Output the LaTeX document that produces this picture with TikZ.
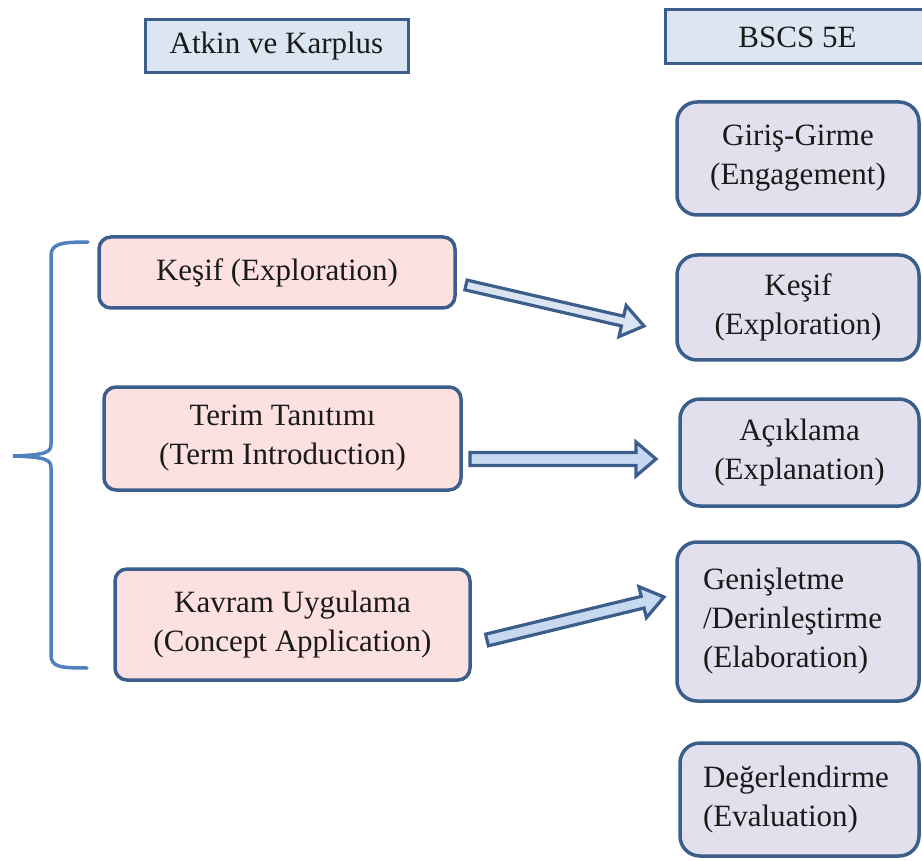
\documentclass[tikz,border=0pt]{standalone}
\usepackage{fontspec}
\setmainfont{Liberation Serif}
\usetikzlibrary{calc}
\definecolor{bord}{HTML}{3B5E8C}
\definecolor{hdrfill}{HTML}{DCE6F2}
\definecolor{pinkfill}{HTML}{FDE1E1}
\definecolor{lavfill}{HTML}{E4DFEC}
\definecolor{bracecol}{HTML}{4F81BD}
\definecolor{arrfillA}{HTML}{DBE5F1}
\definecolor{arrfillB}{HTML}{C6D9F1}
\definecolor{txt}{HTML}{1A1A1A}
\tikzset{
  basebox/.style={draw=bord, line width=3.5pt, inner sep=0pt, text=txt,
    font=\fontsize{31}{39}\selectfont, align=flush center},
  hdrbox/.style={basebox, fill=hdrfill, line width=3pt},
  leftbox/.style={basebox, fill=pinkfill, rounded corners=12pt},
  rightbox/.style={basebox, fill=lavfill, rounded corners=20pt},
  blockarrow/.style={draw=bord, line width=3.2pt, line join=miter},
  bracestyle/.style={draw=bracecol, line width=3.5pt, line cap=round}
}
\newcommand\blockarrowdraw[6]{%
  \coordinate (#1-n) at ($(#2)!#5!(#1)$);
  \draw[blockarrow, fill=#6] ($(#1)!#3!90:(#2)$) -- ($(#1-n)!#3!90:(#2)$) --
    ($(#1-n)!#4!90:(#2)$) -- (#2) -- ($(#1-n)!#4!-90:(#2)$) --
    ($(#1-n)!#3!-90:(#2)$) -- ($(#1)!#3!-90:(#2)$) -- cycle;}
\begin{document}
\begin{tikzpicture}[x=1pt, y=-1pt]
\useasboundingbox (0,0) rectangle (922,861);

% headers
\node[hdrbox, minimum width=263pt, minimum height=53pt] (hA) at (276.5,46.5) {Atkin ve Karplus};
\node[hdrbox, minimum width=265pt, minimum height=54pt] (hB) at (797.5,37) {BSCS 5E};

% left boxes
\node[leftbox, minimum width=356pt, minimum height=71pt, text width=340pt] (l1) at (277,272.5) {Keşif (Exploration)};
\node[leftbox, minimum width=357pt, minimum height=103pt, text width=340pt] (l2) at (282.5,438.5) {Terim Tanıtımı\\(Term Introduction)};
\node[leftbox, minimum width=355pt, minimum height=111pt, text width=340pt] (l3) at (292.5,624.5) {Kavram Uygulama\\(Concept Application)};

% right boxes
\node[rightbox, minimum width=242pt, minimum height=113pt, text width=230pt] (r1) at (798,158.5) {Giriş-Girme\\(Engagement)};
\node[rightbox, minimum width=242pt, minimum height=105pt, text width=230pt] (r2) at (798,307.5) {Keşif\\(Exploration)};
\node[rightbox, minimum width=239pt, minimum height=107pt, text width=230pt] (r3) at (799.5,452.5) {Açıklama\\(Explanation)};
\node[rightbox, minimum width=242pt, minimum height=159pt, text width=190pt, align=flush left, inner xsep=26pt] (r4) at (798,621.5) {Genişletme\\/Derinleştirme\\(Elaboration)};
\node[rightbox, minimum width=239pt, minimum height=113pt, text width=193pt, align=flush left, inner xsep=23pt] (r5) at (799.5,799.5) {Değerlendirme\\(Evaluation)};

% arrows
\coordinate (a1s) at (466,285);
\coordinate (a1e) at (644,326);
\coordinate (a2s) at (470,459);
\coordinate (a2e) at (656,459);
\coordinate (a3s) at (487,640);
\coordinate (a3e) at (664,597);
\blockarrowdraw{a1s}{a1e}{5pt}{16pt}{22pt}{arrfillA}
\blockarrowdraw{a2s}{a2e}{6.5pt}{17pt}{20pt}{arrfillB}
\blockarrowdraw{a3s}{a3e}{6pt}{16pt}{22pt}{arrfillB}

% brace
\coordinate (bt) at (88,242);
\coordinate (bm) at (13,456);
\coordinate (bb) at (87,668);
\draw[bracestyle] (bt) .. controls (60,242) and (51,244) .. (51,256) -- (51,444)
  .. controls (51,452) and (47,455) .. (bm)
  .. controls (47,457) and (51,460) .. (51,468) -- (51,655)
  .. controls (51,667) and (60,668) .. (bb);
\end{tikzpicture}
\end{document}
